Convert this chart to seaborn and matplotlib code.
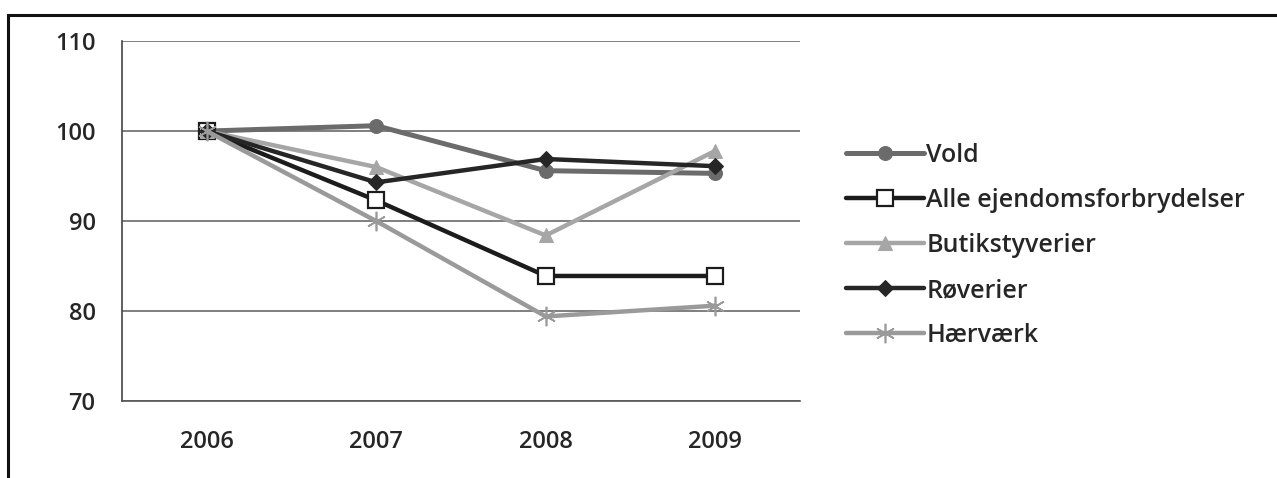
import pandas as pd
import numpy as np
import matplotlib.pyplot as plt
import seaborn as sns
from matplotlib.patches import Rectangle

years = ["2006", "2007", "2008", "2009"]
series = ["Vold", "Alle ejendomsforbrydelser", "Butikstyverier", "Røverier", "Hærværk"]
vold = [100, 100.6, 95.6, 95.3]
alle = [100, 92.3, 83.9, 83.9]
butik = [100, 96.0, 88.4, 97.8]
roeverier = [100, 94.3, 96.9, 96.1]
haervaerk = [100, 90.0, 79.4, 80.6]

colors = ["#6b6b6b", "#1c1c1c", "#a6a6a6", "#262626", "#9a9a9a"]
markers = ["o", "s", "^", "D", "X"]

rows = []
for name, vals in zip(series, [vold, alle, butik, roeverier, haervaerk]):
    for i, v in enumerate(vals):
        rows.append({"pos": i, "value": v, "serie": name})
df = pd.DataFrame(rows)

sns.set_style("white")
plt.rcParams["font.family"] = ["Open Sans", "DejaVu Sans"]
plt.rcParams["font.weight"] = "semibold"

fig = plt.figure(figsize=(12.77, 4.78), dpi=100)
ax = fig.add_axes([0.0955, 0.161, 0.531, 0.753])

sns.lineplot(data=df, x="pos", y="value", hue="serie", style="serie",
             hue_order=series, style_order=series, palette=colors,
             markers=markers, dashes=False, linewidth=3.2, markersize=10,
             ax=ax, legend=False)

# marker styling per series
for line, name in zip(ax.get_lines(), series):
    line.set_markeredgecolor(line.get_color())
    if name == "Vold":
        line.set_linewidth(3.6)
    if name == "Alle ejendomsforbrydelser":
        line.set_markerfacecolor("white")
        line.set_markeredgewidth(1.6)
        line.set_markersize(11)
    elif name == "Hærværk":
        line.set_marker((6, 2, 0))
        line.set_markersize(14)
        line.set_markeredgewidth(1.2)
    elif name == "Røverier":
        line.set_markersize(8)

ax.set_xlim(-0.5, 3.5)
ax.set_ylim(70, 110)
ax.set_yticks([70, 80, 90, 100, 110])
ax.set_xticks(range(4))
ax.set_xticklabels(years)
ax.set_xticks(np.arange(-0.5, 4.0, 1.0), minor=True)
ax.tick_params(axis="x", which="major", length=0, pad=21, labelsize=17)
ax.tick_params(axis="x", which="minor", length=7, direction="out", width=1, color="#444444")
ax.tick_params(axis="y", length=6, direction="out", width=1, color="#444444", labelsize=17, pad=13)
ax.set_xlabel("")
ax.set_ylabel("")
ax.yaxis.grid(True, color="#6a6a6a", linewidth=1.2)
ax.set_axisbelow(True)
for s in ["top", "right"]:
    ax.spines[s].set_visible(False)
ax.spines["left"].set_color("#444444")
ax.spines["bottom"].set_color("#555555")
ax.spines["left"].set_linewidth(1.2)
ax.spines["bottom"].set_linewidth(1.2)

handles = [plt.Line2D([], [], color=ln.get_color(), linewidth=ln.get_linewidth(),
                      marker=ln.get_marker(), markersize=ln.get_markersize(),
                      markerfacecolor=ln.get_markerfacecolor(),
                      markeredgecolor=ln.get_markeredgecolor(),
                      markeredgewidth=ln.get_markeredgewidth())
           for ln in ax.get_lines()[:5]]
fig.legend(handles, series, loc="upper left", bbox_to_anchor=(0.645, 0.748),
           frameon=False, fontsize=18, handlelength=3.1, handletextpad=0.1,
           labelspacing=0.8)

# outer frame of the scanned figure
fig.patches.append(Rectangle((8 / 1277, -0.2), 1.2, 1.2 - 15 / 478,
                             transform=fig.transFigure, fill=False,
                             edgecolor="#111111", linewidth=2.2))

fig.savefig("out.png", dpi=100)
